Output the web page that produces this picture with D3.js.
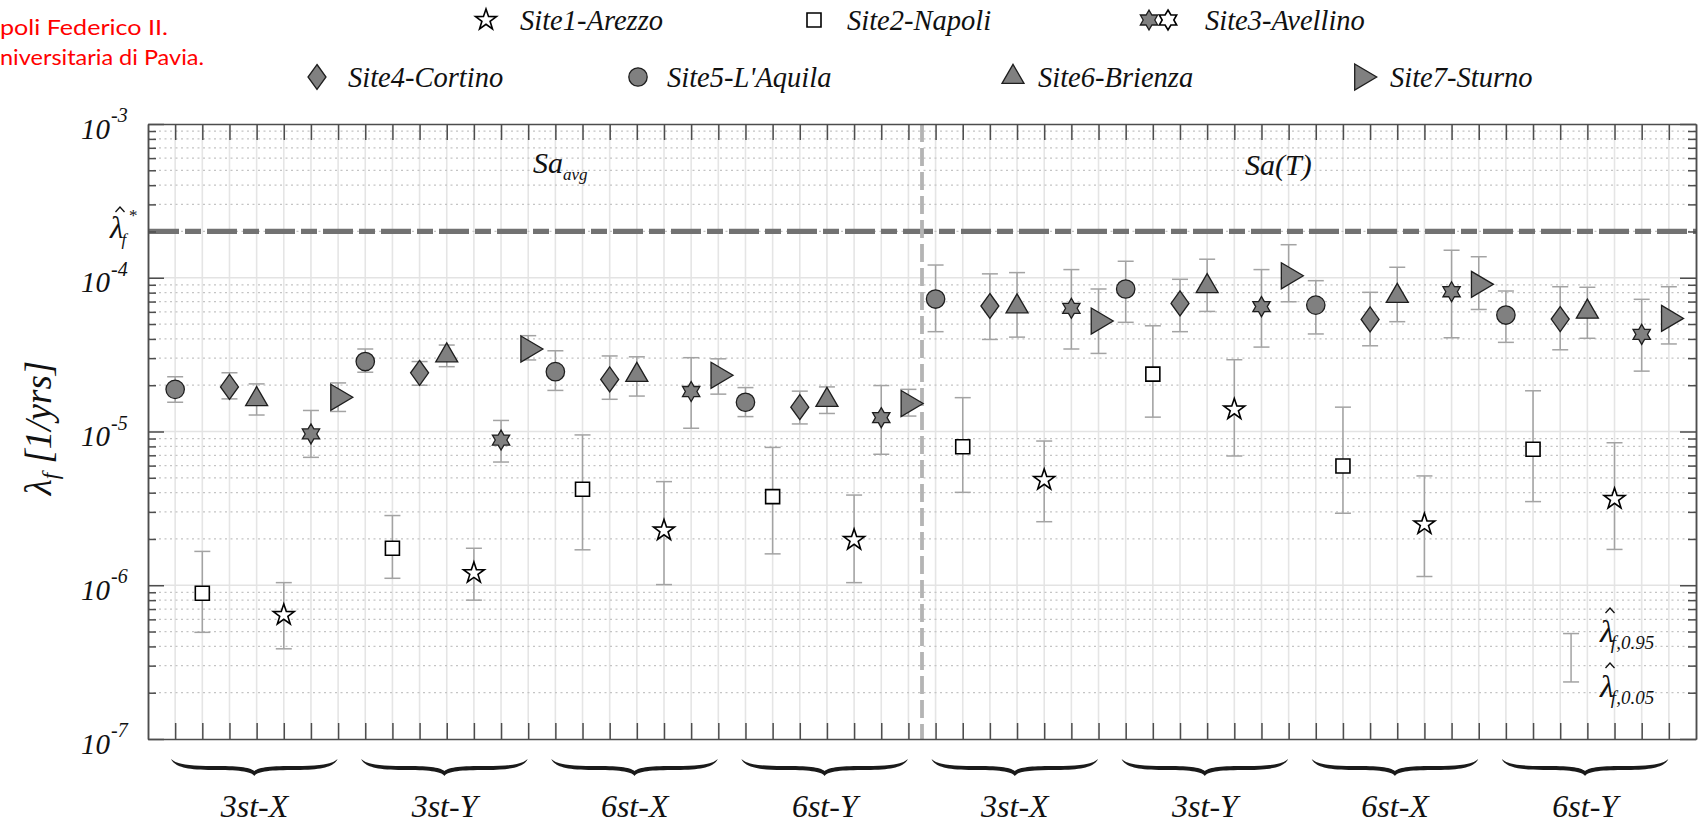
<!DOCTYPE html>
<html><head><meta charset="utf-8">
<script src="https://cdn.jsdelivr.net/npm/d3@7"></script>
<style>
body{margin:0;background:#fff}svg{display:block}
.tm{font-family:"Liberation Serif","Times New Roman",Times,"DejaVu Serif",serif;font-style:italic;fill:#111}
.wm{font-family:Lato,"Open Sans",sans-serif;fill:#ff0000}
</style>
</head><body>
<svg id="c" width="1704" height="824"></svg>
<script>
// ---------------- data ----------------
const groups = ["3st-X","3st-Y","6st-X","6st-Y","3st-X","3st-Y","6st-X","6st-Y"];
const measureLabels = ["Sa", "Sa(T)"];
const yMajor = [1e-7,1e-6,1e-5,1e-4,1e-3];
const yMajorExp = ["-7","-6","-5","-4","-3"];
const lambdaStar = 2.0e-4;
const legendBar = [2.35e-7, 4.85e-7];   // example interval in the corner key

// median, 5% and 95% estimates of the failure rate, one value per group
const site1Mid = [6.4e-7, 1.2e-6, 2.27e-6, 1.97e-6, 4.84e-6, 1.39e-5, 2.49e-6, 3.64e-6];
const site1P95 = [1.04e-6, 1.74e-6, 4.72e-6, 3.86e-6, 8.67e-6, 2.93e-5, 5.14e-6, 8.45e-6];
const site1P05 = [3.86e-7, 8.0e-7, 1.01e-6, 1.04e-6, 2.59e-6, 6.93e-6, 1.14e-6, 1.71e-6];

const site2Mid = [8.87e-7, 1.74e-6, 4.21e-6, 3.77e-6, 7.96e-6, 2.36e-5, 5.97e-6, 7.66e-6];
const site2P95 = [1.66e-6, 2.84e-6, 9.5e-6, 7.88e-6, 1.66e-5, 4.87e-5, 1.44e-5, 1.84e-5];
const site2P05 = [4.94e-7, 1.11e-6, 1.70e-6, 1.60e-6, 4.02e-6, 1.24e-5, 2.94e-6, 3.50e-6];

const site3Mid = [9.64e-6, 8.8e-6, 1.82e-5, 1.23e-5, 6.33e-5, 6.49e-5, 8.11e-5, 4.28e-5];
const site3P95 = [1.37e-5, 1.18e-5, 3.02e-5, 1.99e-5, 1.13e-4, 1.13e-4, 1.51e-4, 7.24e-5];
const site3P05 = [6.79e-6, 6.33e-6, 1.05e-5, 7.11e-6, 3.44e-5, 3.54e-5, 4.07e-5, 2.47e-5];

const site4Mid = [1.95e-5, 2.41e-5, 2.18e-5, 1.44e-5, 6.55e-5, 6.81e-5, 5.36e-5, 5.39e-5];
const site4P95 = [2.41e-5, 2.85e-5, 3.1e-5, 1.83e-5, 1.06e-4, 9.77e-5, 8.04e-5, 8.74e-5];
const site4P05 = [1.63e-5, 2.0e-5, 1.62e-5, 1.12e-5, 3.97e-5, 4.46e-5, 3.61e-5, 3.40e-5];

const site5Mid = [1.88e-5, 2.85e-5, 2.45e-5, 1.55e-5, 7.27e-5, 8.45e-5, 6.64e-5, 5.72e-5];
const site5P95 = [2.27e-5, 3.44e-5, 3.35e-5, 1.93e-5, 1.21e-4, 1.28e-4, 9.57e-5, 8.2e-5];
const site5P05 = [1.55e-5, 2.43e-5, 1.85e-5, 1.25e-5, 4.46e-5, 5.13e-5, 4.31e-5, 3.80e-5];

const site6Mid = [1.62e-5, 3.12e-5, 2.33e-5, 1.60e-5, 6.5e-5, 8.8e-5, 7.6e-5, 6.0e-5];
const site6P95 = [2.04e-5, 3.65e-5, 3.06e-5, 1.95e-5, 1.08e-4, 1.32e-4, 1.17e-4, 8.67e-5];
const site6P05 = [1.28e-5, 2.64e-5, 1.70e-5, 1.31e-5, 4.11e-5, 6.04e-5, 5.18e-5, 4.04e-5];

const site7Mid = [1.67e-5, 3.44e-5, 2.32e-5, 1.52e-5, 5.23e-5, 1.03e-4, 9.06e-5, 5.44e-5];
const site7P95 = [2.07e-5, 4.2e-5, 2.97e-5, 1.88e-5, 8.45e-5, 1.64e-4, 1.37e-4, 8.74e-5];
const site7P05 = [1.35e-5, 2.92e-5, 1.75e-5, 1.26e-5, 3.22e-5, 6.98e-5, 6.22e-5, 3.71e-5];

const siteNames = ["Site1-Arezzo","Site2-Napoli","Site3-Avellino","Site4-Cortino","Site5-L'Aquila","Site6-Brienza","Site7-Sturno"];

// ---------------- setup ----------------
const series = [
  {name:siteNames[4], mid:site5Mid, lo:site5P05, hi:site5P95, slot:1, shape:"circle",   fill:"#808080"},
  {name:siteNames[1], mid:site2Mid, lo:site2P05, hi:site2P95, slot:2, shape:"square",   fill:"#ffffff"},
  {name:siteNames[3], mid:site4Mid, lo:site4P05, hi:site4P95, slot:3, shape:"diamond",  fill:"#808080"},
  {name:siteNames[5], mid:site6Mid, lo:site6P05, hi:site6P95, slot:4, shape:"triUp",    fill:"#808080"},
  {name:siteNames[0], mid:site1Mid, lo:site1P05, hi:site1P95, slot:5, shape:"star5",    fill:"#ffffff"},
  {name:siteNames[2], mid:site3Mid, lo:site3P05, hi:site3P95, slot:6, shape:"star6",    fill:"#808080"},
  {name:siteNames[6], mid:site7Mid, lo:site7P05, hi:site7P95, slot:7, shape:"triRight", fill:"#808080"}
];

const L=148, R=1696, T=124, B=739;
const x = d3.scaleLinear().domain([0,57]).range([L,R]);
const y = d3.scaleLog().domain([1e-7,1e-3]).range([B,T]);
const svg = d3.select("#c");

function starPath(n, Ro, Ri){
  const pts=[];
  for(let i=0;i<2*n;i++){
    const a = -Math.PI/2 + i*Math.PI/n;
    const r = i%2===0 ? Ro : Ri;
    pts.push([r*Math.cos(a), r*Math.sin(a)]);
  }
  return "M"+pts.map(p=>p[0].toFixed(2)+","+p[1].toFixed(2)).join("L")+"Z";
}
const shapes = {
  circle: d3.symbol(d3.symbolCircle, Math.PI*9.2*9.2)(),
  square: "M-7,-7H7V7H-7Z",
  diamond: "M0,-12.5L9,0L0,12.5L-9,0Z",
  triUp: "M0,-12.7L11,6.3L-11,6.3Z",
  triRight: "M-7.3,-13L14.7,0L-7.3,13Z",
  star5: starPath(5, 11, 4.3),
  star6: starPath(6, 10, 5.8)
};
function marker(sel, shape, fill, cx, cy){
  sel.append("path").attr("d", shapes[shape])
    .attr("transform", `translate(${cx},${cy})`)
    .attr("fill", fill)
    .attr("stroke", fill==="#ffffff" ? "#000" : "#1e1e1e")
    .attr("stroke-width", fill==="#ffffff" ? 1.6 : 1.3)
    .attr("stroke-linejoin","miter");
}
function tmText(xp, yp, size, txt){
  return svg.append("text").attr("class","tm").attr("x",xp).attr("y",yp)
    .style("font-size", size+"px").text(txt==null ? null : txt);
}

// ---------------- grid ----------------
const grid = svg.append("g");
d3.range(1,57).forEach(i=>{
  grid.append("line").attr("x1",x(i)).attr("x2",x(i)).attr("y1",T).attr("y2",B)
    .attr("stroke","#e5e5e5").attr("stroke-width",1.6);
});
const minorVals = [];
[-7,-6,-5,-4].forEach(e=>{ for(let m=2;m<=9;m++) minorVals.push(m*Math.pow(10,e)); });
minorVals.forEach(v=>{
  grid.append("line").attr("x1",L).attr("x2",R).attr("y1",y(v)).attr("y2",y(v))
    .attr("stroke","#c4c4c4").attr("stroke-width",1.2).attr("stroke-dasharray","2,3.5");
});
[1e-6,1e-5,1e-4].forEach(v=>{
  grid.append("line").attr("x1",L).attr("x2",R).attr("y1",y(v)).attr("y2",y(v))
    .attr("stroke","#e3e3e3").attr("stroke-width",1.6);
});

// threshold line
svg.append("line").attr("x1",L+1).attr("x2",R).attr("y1",y(lambdaStar)).attr("y2",y(lambdaStar))
  .attr("stroke","#727272").attr("stroke-width",5.3).attr("stroke-dasharray","30,6,16,6");

// separator between intensity measures
svg.append("line").attr("x1",x(28.5)).attr("x2",x(28.5)).attr("y1",T).attr("y2",B)
  .attr("stroke","#b4b4b4").attr("stroke-width",3.8).attr("stroke-dasharray","18,6");

// ---------------- error bars + markers ----------------
const eb = svg.append("g").attr("stroke","#a3a3a3").attr("stroke-width",1.5);
function errBar(px, lo, hi){
  eb.append("line").attr("x1",px).attr("x2",px).attr("y1",y(lo)).attr("y2",y(hi));
  eb.append("line").attr("x1",px-8).attr("x2",px+8).attr("y1",y(lo)).attr("y2",y(lo));
  eb.append("line").attr("x1",px-8).attr("x2",px+8).attr("y1",y(hi)).attr("y2",y(hi));
}
series.forEach(s=>{
  s.mid.forEach((v,g)=> errBar(x(g*7 + s.slot), s.lo[g], s.hi[g]));
});
const mk = svg.append("g");
series.forEach(s=>{
  s.mid.forEach((v,g)=> marker(mk, s.shape, s.fill, x(g*7 + s.slot), y(v)));
});
// key error bar (bottom right)
errBar(x(52.4), legendBar[0], legendBar[1]);

// ---------------- axes (ticks inward) ----------------
function styleAxis(g){
  g.selectAll("path,line").attr("stroke","#4d4d4d").attr("stroke-width",1.5);
  g.selectAll("text").remove();
}
svg.append("g").attr("transform",`translate(${L},0)`)
  .call(d3.axisRight(y).tickValues(yMajor).tickSize(16).tickSizeOuter(0).tickFormat("")).call(styleAxis);
svg.append("g").attr("transform",`translate(${L},0)`)
  .call(d3.axisRight(y).tickValues(minorVals).tickSize(8).tickSizeOuter(0).tickFormat("")).call(styleAxis);
svg.append("g").attr("transform",`translate(${R},0)`)
  .call(d3.axisLeft(y).tickValues(yMajor).tickSize(16).tickSizeOuter(0).tickFormat("")).call(styleAxis);
svg.append("g").attr("transform",`translate(${R},0)`)
  .call(d3.axisLeft(y).tickValues(minorVals).tickSize(8).tickSizeOuter(0).tickFormat("")).call(styleAxis);
svg.append("g").attr("transform",`translate(0,${B})`)
  .call(d3.axisTop(x).tickValues(d3.range(1,57)).tickSize(16).tickSizeOuter(0).tickFormat("")).call(styleAxis);
svg.append("g").attr("transform",`translate(0,${T})`)
  .call(d3.axisBottom(x).tickValues(d3.range(1,57)).tickSize(16).tickSizeOuter(0).tickFormat("")).call(styleAxis);

// y tick labels 10^n
yMajor.forEach((v,i)=>{
  tmText(110, y(v)+14.5, 29, "10").attr("text-anchor","end");
  tmText(111, y(v)-2, 20, yMajorExp[i]).attr("text-anchor","start");
});

// y axis title
{
  const t = svg.append("text").attr("class","tm").attr("transform","translate(51,428) rotate(-90)")
    .attr("text-anchor","middle").style("font-size","37px");
  t.append("tspan").text("λ");
  t.append("tspan").style("font-size","23px").attr("dy",7).text("f");
  t.append("tspan").attr("dy",-7).text(" [1/yrs]");
}

// hat helper
function hat(cx, topY, w){
  svg.append("path").attr("d",`M${cx-w/2},${topY+5}L${cx},${topY}L${cx+w/2},${topY+5}`)
    .attr("fill","none").attr("stroke","#111").attr("stroke-width",1.3);
}

// lambda* label
{
  const t = tmText(110, 238, 31);
  t.append("tspan").text("λ");
  t.append("tspan").style("font-size","17px").attr("dy",7).attr("dx",-2).text("f");
  tmText(129, 221, 17, "*").style("font-style","normal");
  hat(120, 207, 9);
}
// key labels
[["f,0.95",642],["f,0.05",697]].forEach(([sub,by])=>{
  const t = tmText(1600, by, 32);
  t.append("tspan").text("λ");
  t.append("tspan").style("font-size","19px").attr("dy",7).attr("dx",-3).text(sub);
  hat(1610, by-34, 9);
});

// measure labels
{
  const t = tmText(533, 173, 30);
  t.append("tspan").text(measureLabels[0]);
  t.append("tspan").style("font-size","17px").attr("dy",7).text("avg");
  tmText(1245, 175, 30, measureLabels[1]);
}

// braces + group labels
function brace(x0,x1,y0){
  const w=x1-x0, m=(x0+x1)/2, yb=y0+9, yt=y0+17;
  return `M${x0},${y0}`+
   `C${x0+0.02*w},${y0+7} ${x0+0.08*w},${yb+2} ${x0+0.25*w},${yb+2}`+
   `C${m-0.1*w},${yb+2} ${m-0.02*w},${yb+3} ${m},${yt}`+
   `C${m+0.02*w},${yb+3} ${m+0.1*w},${yb+2} ${x1-0.25*w},${yb+2}`+
   `C${x1-0.08*w},${yb+2} ${x1-0.02*w},${y0+7} ${x1},${y0}`+
   `C${x1-0.03*w},${y0+5} ${x1-0.1*w},${yb-2} ${x1-0.25*w},${yb-2}`+
   `C${m+0.1*w},${yb-2} ${m+0.03*w},${yb-1} ${m},${yt-5}`+
   `C${m-0.03*w},${yb-1} ${m-0.1*w},${yb-2} ${x0+0.25*w},${yb-2}`+
   `C${x0+0.1*w},${yb-2} ${x0+0.03*w},${y0+5} ${x0},${y0}Z`;
}
groups.forEach((gname,g)=>{
  svg.append("path").attr("d",brace(x(g*7+0.85), x(g*7+6.98), 759)).attr("fill","#1a1a1a");
  tmText(x(g*7+3.92), 817, 32, gname).attr("text-anchor","middle");
});

// ---------------- legend ----------------
const legendItems = [
  {shape:"star5", fill:"#ffffff", mx:486, y:20, tx:520, name:siteNames[0]},
  {shape:"square", fill:"#ffffff", mx:814, y:20, tx:847, name:siteNames[1]},
  {shape:"star6", fill:"#808080", mx:1149, y:20, tx:1205, name:siteNames[2], extra:1168},
  {shape:"diamond", fill:"#808080", mx:317, y:77, tx:348, name:siteNames[3]},
  {shape:"circle", fill:"#808080", mx:638, y:77, tx:667, name:siteNames[4]},
  {shape:"triUp", fill:"#808080", mx:1013, y:77, tx:1038, name:siteNames[5]},
  {shape:"triRight", fill:"#808080", mx:1362, y:77, tx:1390, name:siteNames[6]}
];
const lg = svg.append("g");
legendItems.forEach(d=>{
  marker(lg, d.shape, d.fill, d.mx, d.y);
  if(d.extra) marker(lg, d.shape, "#ffffff", d.extra, d.y);
  tmText(d.tx, d.y+9.5, 28.5, d.name);
});

// cropped red watermark text
svg.append("text").attr("class","wm").attr("x",0).attr("y",35).style("font-size","22px")
  .attr("textLength",168).attr("lengthAdjust","spacingAndGlyphs").text("poli Federico II.");
svg.append("text").attr("class","wm").attr("x",0).attr("y",65).style("font-size","22px")
  .attr("textLength",204).attr("lengthAdjust","spacingAndGlyphs").text("niversitaria di Pavia.");
</script>
</body></html>
